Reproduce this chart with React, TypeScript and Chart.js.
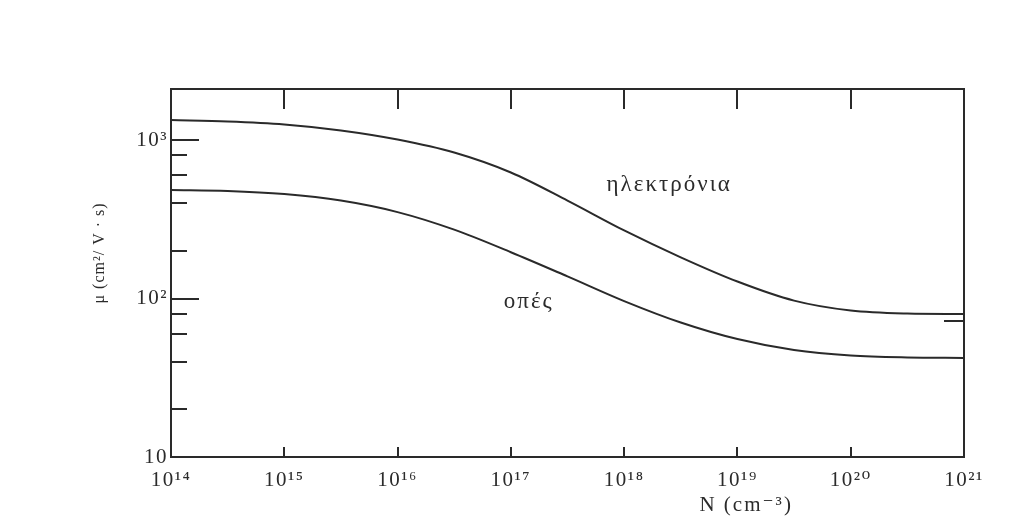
import React, { useEffect, useRef } from "react";
import { Chart, registerables } from "chart.js";

Chart.register(...registerables);

// Doping concentration N (cm^-3), half-decade samples
const DOPING = [1e14, 3.16e14, 1e15, 3.16e15, 1e16, 3.16e16, 1e17, 3.16e17, 1e18, 3.16e18, 1e19, 3.16e19, 1e20, 3.16e20, 1e21];
// Mobility μ (cm²/V·s)
const ELECTRONS = [1337, 1309, 1253, 1149, 1007, 834, 624, 415, 269, 182, 128, 97, 84, 80.4, 79.8];
const HOLES = [484, 477, 456, 415, 351, 272, 196, 138, 96.4, 70.6, 55.5, 47.3, 43.7, 42.5, 42.2];

const X_TICKS = [1e14, 1e15, 1e16, 1e17, 1e18, 1e19, 1e20, 1e21];
const X_TICK_LABELS = ["10¹⁴", "10¹⁵", "10¹⁶", "10¹⁷", "10¹⁸", "10¹⁹", "10²⁰", "10²¹"];
const Y_TICKS = [10, 100, 1000];
const Y_TICK_LABELS = ["10", "10²", "10³"];
const Y_MINOR = [20, 40, 60, 80, 200, 400, 600, 800];
const Y_RIGHT_MINOR = [72];

const SERIES_NAMES = ["ηλεκτρόνια", "οπές"];
const X_TITLE = "N (cm⁻³)";
const Y_TITLE = "μ (cm²/ V · s)";

const INK = "#2a2a2a";
const TEXT = "#2b2b2b";
const SERIF = "'Liberation Serif', 'DejaVu Serif', serif";

const setSpacing = (ctx: any, v: string) => {
  try { ctx.letterSpacing = v; } catch (e) {}
};

const framePlugin = {
  id: "frame",
  beforeDraw(chart: any) {
    const ctx = chart.ctx;
    ctx.fillStyle = "#ffffff";
    ctx.fillRect(0, 0, chart.width, chart.height);
    setSpacing(ctx, "1.5px");
  },
  afterDraw(chart: any) {
    const { ctx, chartArea: a, scales } = chart;
    const x = scales.x;
    const y = scales.y;
    ctx.save();
    ctx.strokeStyle = INK;
    ctx.lineWidth = 2;
    ctx.strokeRect(a.left, a.top, a.right - a.left, a.bottom - a.top);
    ctx.beginPath();
    X_TICKS.forEach((v) => {
      const px = Math.round(x.getPixelForValue(v));
      if (px <= a.left + 2 || px >= a.right - 2) return;
      ctx.moveTo(px, a.top);
      ctx.lineTo(px, a.top + 20);
      ctx.moveTo(px, a.bottom);
      ctx.lineTo(px, a.bottom - 10);
    });
    Y_TICKS.forEach((v) => {
      const py = Math.round(y.getPixelForValue(v));
      if (py >= a.bottom - 2 || py <= a.top + 2) return;
      ctx.moveTo(a.left, py);
      ctx.lineTo(a.left + 28, py);
    });
    Y_MINOR.forEach((v) => {
      const py = Math.round(y.getPixelForValue(v));
      ctx.moveTo(a.left, py);
      ctx.lineTo(a.left + 16, py);
    });
    Y_RIGHT_MINOR.forEach((v) => {
      const py = Math.round(y.getPixelForValue(v));
      ctx.moveTo(a.right, py);
      ctx.lineTo(a.right - 20, py);
    });
    ctx.stroke();

    ctx.fillStyle = TEXT;
    ctx.textAlign = "center";
    ctx.textBaseline = "middle";
    ctx.font = `23px ${SERIF}`;
    setSpacing(ctx, "2px");
    ctx.fillText(SERIES_NAMES[0], x.getPixelForValue(2.45e18) + 1, y.getPixelForValue(520));
    ctx.fillText(SERIES_NAMES[1], x.getPixelForValue(1.41e17) + 1, y.getPixelForValue(95));
    ctx.font = `21px ${SERIF}`;
    ctx.fillText(X_TITLE, x.getPixelForValue(1.17e19) + 1, a.bottom + 48);
    ctx.translate(a.left - 71, y.getPixelForValue(194));
    ctx.rotate(-Math.PI / 2);
    ctx.font = `16px ${SERIF}`;
    setSpacing(ctx, "1px");
    ctx.fillText(Y_TITLE, 0, 0);
    ctx.restore();
  },
};

export default function App() {
  const ref = useRef<HTMLCanvasElement | null>(null);
  useEffect(() => {
    if (!ref.current) return;
    const chart = new Chart(ref.current, {
      type: "line",
      data: {
        datasets: [
          {
            label: SERIES_NAMES[0],
            data: DOPING.map((n, i) => ({ x: n, y: ELECTRONS[i] })),
            borderColor: INK,
            borderWidth: 2,
            pointRadius: 0,
            cubicInterpolationMode: "monotone",
            fill: false,
          },
          {
            label: SERIES_NAMES[1],
            data: DOPING.map((n, i) => ({ x: n, y: HOLES[i] })),
            borderColor: INK,
            borderWidth: 2,
            pointRadius: 0,
            cubicInterpolationMode: "monotone",
            fill: false,
          },
        ],
      },
      options: {
        animation: false,
        responsive: false,
        maintainAspectRatio: false,
        layout: { padding: { top: 89, right: 47, left: 0, bottom: 0 } },
        plugins: { legend: { display: false }, tooltip: { enabled: false } },
        scales: {
          x: {
            type: "logarithmic",
            position: "bottom",
            min: 1e14,
            max: 1e21,
            grid: { display: false, drawTicks: false },
            border: { display: false },
            afterBuildTicks: (s: any) => {
              s.ticks = X_TICKS.map((v) => ({ value: v }));
            },
            afterFit: (s: any) => {
              s.height = 59;
            },
            ticks: {
              autoSkip: false,
              maxRotation: 0,
              padding: 11,
              color: TEXT,
              font: { family: SERIF, size: 21 },
              callback: (v: any) => {
                const i = X_TICKS.indexOf(Number(v));
                return i >= 0 ? X_TICK_LABELS[i] : "";
              },
            },
          },
          y: {
            type: "logarithmic",
            position: "left",
            min: 10,
            max: 2100,
            grid: { display: false, drawTicks: false },
            border: { display: false },
            afterBuildTicks: (s: any) => {
              s.ticks = Y_TICKS.map((v) => ({ value: v }));
            },
            afterFit: (s: any) => {
              s.width = 171;
            },
            ticks: {
              autoSkip: false,
              padding: 3,
              color: TEXT,
              font: { family: SERIF, size: 21 },
              callback: (v: any) => {
                const i = Y_TICKS.indexOf(Number(v));
                return i >= 0 ? Y_TICK_LABELS[i] : "";
              },
            },
          },
        },
      },
      plugins: [framePlugin],
    } as any);
    return () => chart.destroy();
  }, []);
  return (
    <div style={{ position: "absolute", left: 0, top: 0, width: 1011, height: 516, background: "#fff" }}>
      <canvas ref={ref} width={1011} height={516} style={{ width: 1011, height: 516, display: "block" }} />
    </div>
  );
}
